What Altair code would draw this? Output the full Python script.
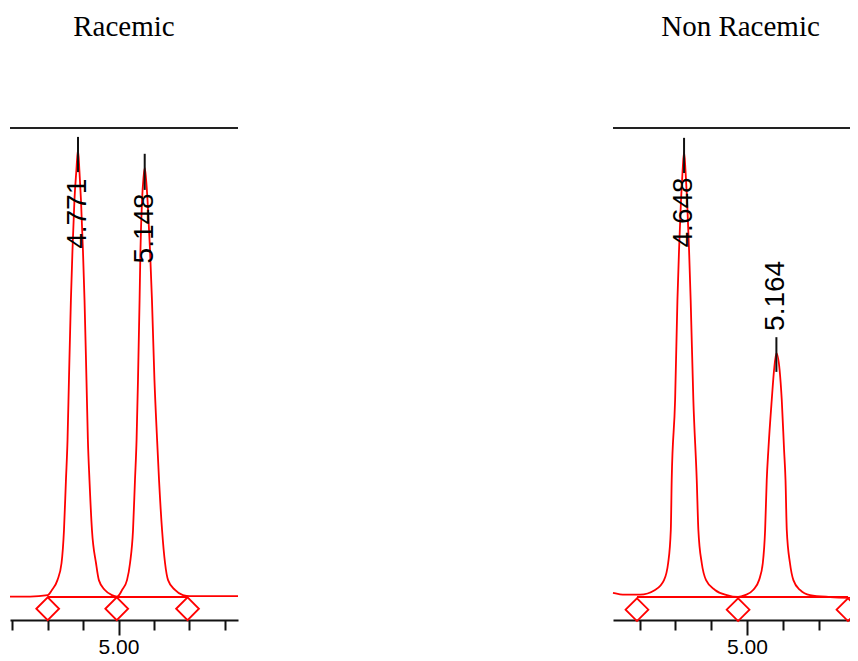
import altair as alt
import pandas as pd

# ---------------- data ----------------
# Racemic chromatogram (time in min, detector signal, relative units)
racemic_time = [4.387, 4.500, 4.600, 4.624, 4.655, 4.678, 4.692, 4.703, 4.712, 4.720,
                4.731, 4.740, 4.751, 4.762, 4.771, 4.779, 4.788, 4.799, 4.808, 4.819,
                4.827, 4.836, 4.850, 4.873, 4.889, 4.923, 4.963, 4.992, 5.003, 5.020,
                5.048, 5.065, 5.082, 5.093, 5.102, 5.110, 5.119, 5.124, 5.133, 5.141,
                5.148, 5.155, 5.164, 5.178, 5.189, 5.203, 5.218, 5.229, 5.246, 5.263,
                5.280, 5.319, 5.364, 5.404, 5.675]
racemic_signal = [0.001, 0.001, 0.004, 0.015, 0.036, 0.072, 0.143, 0.249, 0.335, 0.463,
                  0.633, 0.740, 0.846, 0.910, 0.954, 0.910, 0.846, 0.740, 0.633, 0.463,
                  0.335, 0.249, 0.143, 0.072, 0.036, 0.015, 0.004, 0.001, 0.004, 0.015,
                  0.036, 0.072, 0.143, 0.249, 0.335, 0.463, 0.633, 0.740, 0.846, 0.893,
                  0.915, 0.893, 0.846, 0.740, 0.633, 0.463, 0.335, 0.249, 0.143, 0.072,
                  0.036, 0.015, 0.004, 0.002, 0.002]

# Non racemic chromatogram
nonracemic_time = [4.251, 4.318, 4.402, 4.486, 4.536, 4.559, 4.574, 4.579, 4.598, 4.611,
                   4.620, 4.631, 4.640, 4.648, 4.656, 4.665, 4.676, 4.685, 4.700, 4.719,
                   4.728, 4.747, 4.771, 4.821, 4.887, 4.950, 4.989, 5.034, 5.067, 5.088,
                   5.101, 5.110, 5.119, 5.138, 5.151, 5.164, 5.182, 5.194, 5.207, 5.215,
                   5.222, 5.240, 5.259, 5.296, 5.352, 5.464, 5.620]
nonracemic_signal = [0.009, 0.005, 0.005, 0.015, 0.036, 0.072, 0.143, 0.249, 0.420, 0.633,
                     0.740, 0.846, 0.910, 0.949, 0.910, 0.846, 0.740, 0.633, 0.420, 0.249,
                     0.143, 0.072, 0.036, 0.015, 0.004, 0.000, 0.004, 0.015, 0.036, 0.072,
                     0.143, 0.249, 0.313, 0.420, 0.484, 0.520, 0.484, 0.420, 0.313, 0.249,
                     0.143, 0.072, 0.036, 0.015, 0.004, 0.000, -0.002]

# peak retention-time labels
racemic_rt = [4.771, 5.148]
racemic_rt_text = ["4.771", "5.148"]
racemic_tick_top = [0.981, 0.945]
racemic_tick_bottom = [0.906, 0.868]
racemic_label_pos = [0.817, 0.786]

nonracemic_rt = [4.648, 5.164]
nonracemic_rt_text = ["4.648", "5.164"]
nonracemic_tick_top = [0.979, 0.554]
nonracemic_tick_bottom = [0.904, 0.480]
nonracemic_label_pos = [0.820, 0.642]

# integration markers (peak start / valley / end)
racemic_marks = [4.60, 4.99, 5.39]
racemic_mark_level = [-0.025, -0.025, -0.025]
nonracemic_marks = [4.385, 4.950, 5.564]
nonracemic_mark_level = [-0.027, -0.027, -0.027]

racemic_domain = [4.387, 5.675]
nonracemic_domain = [4.251, 5.620]
signal_domain = [-0.049, 1.0]
tick_values = [4.4, 4.6, 4.8, 5.0, 5.2, 5.4, 5.6]

RED = "#ff0000"
SANS = "Liberation Sans"
SERIF = "Liberation Serif"


def panel(title, times, signal, rts, rt_text, t_top, t_bot, lab_pos,
          marks, mark_level, domain, width, title_dx):
    curve = pd.DataFrame({"t": times, "v": signal})
    peaks = pd.DataFrame({"t": rts, "label": rt_text, "top": t_top,
                          "bot": t_bot, "pos": lab_pos})
    mk = pd.DataFrame({"t": marks, "v": mark_level})
    base = pd.DataFrame({"t": [marks[0]], "t2": [marks[-1]], "v": [0.0]})

    xscale = alt.Scale(domain=domain, nice=False, zero=False)
    yscale = alt.Scale(domain=signal_domain, nice=False, zero=False)
    xaxis = alt.Axis(
        values=tick_values, title=None, grid=False,
        labelExpr="abs(datum.value - 5) < 0.001 ? '5.00' : ''",
        labelFont=SANS, labelFontSize=21, labelColor="#000000",
        labelPadding=1, labelFlush=False,
        tickSize={"condition": {"test": "abs(datum.value - 5) < 0.001", "value": 15}, "value": 10},
        tickWidth=2, tickColor="#111111", domainColor="#111111", domainWidth=2,
    )
    x = alt.X("t:Q", scale=xscale, axis=xaxis)
    y = alt.Y("v:Q", scale=yscale, axis=None)

    baseline = alt.Chart(base).mark_rule(color=RED, strokeWidth=1.8).encode(
        x=alt.X("t:Q", scale=xscale, axis=xaxis), x2="t2:Q",
        y=alt.Y("v:Q", scale=yscale, axis=None))
    line = alt.Chart(curve).mark_line(color=RED, strokeWidth=1.8,
                                      interpolate="monotone").encode(x=x, y=y)
    diamonds = alt.Chart(mk).mark_point(shape="diamond", size=520, color=RED,
                                        strokeWidth=1.8, filled=False,
                                        opacity=1).encode(x=x, y=y)
    top = alt.Chart(base).mark_rule(color="#222222", strokeWidth=2).encode(
        x=alt.value(0), x2=alt.value(width), y=alt.value(0))
    ticks = alt.Chart(peaks).mark_rule(color="#111111", strokeWidth=2).encode(
        x=x, y=alt.Y("top:Q", scale=yscale, axis=None), y2="bot:Q")
    labels = alt.Chart(peaks).mark_text(angle=270, align="center", baseline="middle",
                                        font=SANS, fontSize=28, color="#000000").encode(
        x=x, y=alt.Y("pos:Q", scale=yscale, axis=None), text="label:N")

    return alt.layer(baseline, line, diamonds, top, ticks, labels).properties(
        width=width, height=492,
        title=alt.TitleParams(title, font=SERIF, fontSize=29, fontWeight="normal",
                              color="#000000", anchor="middle", baseline="alphabetic",
                              offset=62, dx=title_dx))


left = panel("Racemic", racemic_time, racemic_signal, racemic_rt, racemic_rt_text,
             racemic_tick_top, racemic_tick_bottom, racemic_label_pos,
             racemic_marks, racemic_mark_level, racemic_domain, 228, 0)
right = panel("Non Racemic", nonracemic_time, nonracemic_signal, nonracemic_rt,
              nonracemic_rt_text, nonracemic_tick_top, nonracemic_tick_bottom,
              nonracemic_label_pos, nonracemic_marks, nonracemic_mark_level,
              nonracemic_domain, 245, 5)

chart = alt.hconcat(left, right, spacing=367).properties(
    autosize=alt.AutoSizeParams(type="none"),
    padding={"left": 2, "top": 120, "right": 840, "bottom": 525}
).configure_view(stroke=None)

chart.save("out.html", embed_options={"renderer": "svg", "actions": False})
